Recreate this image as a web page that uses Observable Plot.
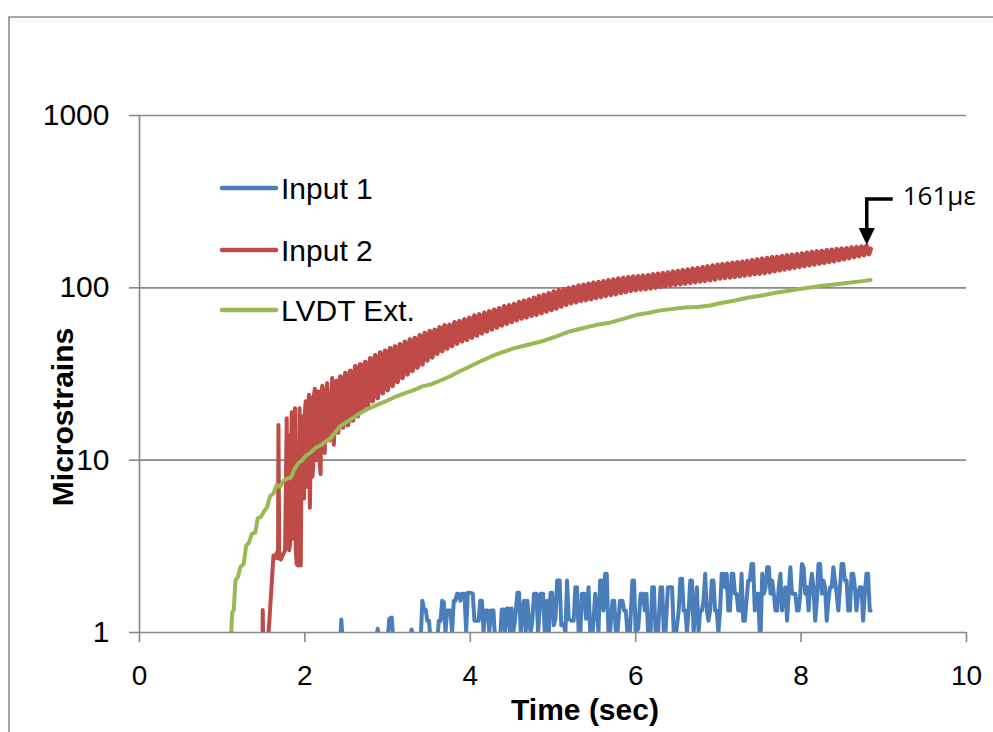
<!DOCTYPE html>
<html>
<head>
<meta charset="utf-8">
<script src="https://cdn.jsdelivr.net/npm/d3@7"></script>
<script src="https://cdn.jsdelivr.net/npm/@observablehq/plot@0.6"></script>
<style>
  html, body { margin: 0; padding: 0; background: #fff; }
  #wrap { position: relative; width: 993px; height: 732px; overflow: hidden; }
  #wrap > svg { position: absolute; left: 0; top: 0; }
  #overlay { pointer-events: none; }
</style>
</head>
<body>
<div id="wrap"></div>
<script>
// ---------- data ----------
const xTicks = [0, 2, 4, 6, 8, 10];
const yTicks = [1, 10, 100, 1000];
const seriesNames = ["Input 1", "Input 2", "LVDT Ext."];
const seriesColors = ["#4A7EBB", "#BE4B48", "#98B954"];
const annotationPoint = [8.80, 176];
const annotationText = "161με";

// LVDT Ext. : [time (s), microstrain]
const lvdt = [
  [1.11,1.0],[1.12,1.3],[1.14,1.35],[1.16,2.0],[1.19,2.1],[1.22,2.4],[1.26,2.5],[1.29,3.2],
  [1.32,3.3],[1.36,3.75],[1.40,3.8],[1.43,4.6],[1.47,4.7],[1.50,5.0],[1.54,5.3],[1.58,6.2],
  [1.62,6.4],[1.66,7.2],[1.70,7.0],[1.74,7.6],[1.78,7.8],[1.83,7.9],[1.87,8.8],[1.92,9.6],
  [1.96,9.9],[2.01,10.6],[2.07,11.1],[2.13,11.8],[2.19,12.2],[2.25,12.8],[2.31,13.4],[2.37,14.6],
  [2.43,15.8],[2.50,16.6],[2.58,17.6],[2.67,18.8],[2.76,19.8],[2.86,20.8],[3.00,22.2],[3.10,23.4],
  [3.20,24.4],[3.31,25.4],[3.42,26.8],[3.53,27.6],[3.64,29.0],[3.75,30.6],[3.86,32.6],[3.97,34.5],
  [4.10,37.0],[4.28,40.5],[4.40,42.5],[4.52,44.5],[4.64,46.0],[4.76,47.5],[4.90,49.5],[5.05,52.5],
  [5.21,56.0],[5.37,58.5],[5.53,61.0],[5.70,63.0],[5.85,66.0],[6.00,69.5],[6.15,71.5],[6.30,74.0],
  [6.45,75.5],[6.60,77.0],[6.75,77.5],[6.90,79.0],[7.05,82.0],[7.20,84.5],[7.35,87.5],[7.51,90.0],
  [7.66,93.0],[7.81,95.5],[7.96,98.0],[8.11,100.5],[8.26,103.0],[8.42,105.0],[8.58,107.0],[8.72,109.0],
  [8.84,111]
];

// Input 2, start-up spikes : [time (s), microstrain]  (null = gap)
const input2Start = [
  [1.488,0.9],[1.49,1.35],[1.495,0.9],[1.52,null],
  [1.555,0.9],[1.62,2.8],[1.64,2.7],[1.66,2.9],[1.675,2.7],[1.68,16],[1.69,2.7],[1.71,2.65],
  [1.73,2.8],[1.76,3.0],[1.78,17.5],[1.79,3.2],[1.80,14],[1.81,3.0],[1.82,3.3],[1.84,19],[1.85,3.5],
  [1.86,3.8],[1.87,18],[1.88,20],[1.89,3.0],[1.90,2.5],[1.92,2.45],[1.935,20],[1.95,2.45],[1.96,12],
  [1.97,18],[1.99,6],[2.00,19],[2.01,22],[2.03,7],[2.04,20],[2.05,24],[2.06,5.3],[2.08,23],[2.09,8],
  [2.10,9],[2.11,24],[2.12,26],[2.14,10],[2.16,25],[2.17,11],[2.19,8.3],[2.20,25],
  [2.21,27],[2.24,11],[2.26,26],[2.27,28],[2.29,14],[2.30,13],[2.33,30],[2.35,12.3],[2.38,29],[2.40,14.5]
];

// Input 2, steady oscillation band : [time (s), microstrain]
const input2Band = [
  [2.40,14.5],[2.43,30.5],[2.46,15.5],[2.49,32],[2.52,16],[2.55,33],[2.58,17],[2.61,35],
  [2.64,18],[2.67,36],[2.70,19.5],[2.73,37],[2.76,20.5],[2.79,39],[2.82,22],[2.85,40.5],
  [2.88,23],[2.91,42],[2.94,24.5],[2.97,43],[3.00,25.5],[3.03,44.5],[3.06,27],[3.09,45.5],
  [3.12,28.5],[3.15,47],[3.18,30],[3.21,48.5],[3.24,31.5],[3.27,50],[3.30,33],[3.33,51],
  [3.36,34.5],[3.39,53],[3.42,36],[3.45,54.5],[3.48,38],[3.51,56],[3.54,39.5],[3.57,57],
  [3.60,41.5],[3.63,59],[3.66,43],[3.69,60.5],[3.72,44.5],[3.75,61],[3.78,46],[3.81,63],
  [3.84,47.5],[3.87,64],[3.90,49],[3.93,65.5],[3.96,50],[3.99,67],[4.02,51.5],[4.05,69],
  [4.08,53],[4.11,70],[4.14,54.5],[4.17,71.5],[4.20,56],[4.23,73],[4.26,57.5],[4.29,74.5],
  [4.32,59],[4.35,76],[4.38,60.5],[4.41,78],[4.44,62],[4.47,79],[4.50,63.5],[4.53,80.5],
  [4.56,65],[4.59,82.5],[4.62,66.5],[4.65,84],[4.68,67.5],[4.71,85.5],[4.74,69],[4.77,87.5],
  [4.80,70],[4.83,89.5],[4.86,71.5],[4.89,91],[4.92,73],[4.95,93],[4.98,74.5],[5.01,95],
  [5.04,76],[5.07,96.5],[5.10,78],[5.13,98],[5.16,80],[5.19,99.5],[5.22,81.5],[5.25,101],
  [5.28,82.5],[5.31,103],[5.34,84],[5.37,104],[5.40,85],[5.43,105.5],[5.46,86],[5.49,107],
  [5.52,87.5],[5.55,108],[5.58,88.5],[5.61,109],[5.64,90],[5.67,110.5],[5.70,91],[5.73,111.5],
  [5.76,92],[5.79,113],[5.82,93.5],[5.85,114],[5.88,94.5],[5.91,115],[5.94,96],[5.97,116],
  [6.00,97],[6.03,116.5],[6.06,98],[6.09,117.5],[6.12,98.5],[6.15,118],[6.18,99.5],[6.21,119.5],
  [6.24,100.5],[6.27,120.5],[6.30,101.5],[6.33,121.5],[6.36,102.5],[6.39,122.5],[6.42,103.5],[6.45,124],
  [6.48,104.5],[6.51,125],[6.54,105],[6.57,126.5],[6.60,106],[6.63,127.5],[6.66,107],[6.69,129],
  [6.72,108],[6.75,130],[6.78,109],[6.81,131.5],[6.84,110],[6.87,133],[6.90,111],[6.93,134.5],
  [6.96,112],[6.99,136],[7.02,113.5],[7.05,137],[7.08,114.5],[7.11,138],[7.14,115],[7.17,139.5],
  [7.20,116],[7.23,140.5],[7.26,117],[7.29,141.5],[7.32,118],[7.35,143],[7.38,119],[7.41,144.5],
  [7.44,120],[7.47,146],[7.50,121],[7.53,147.5],[7.56,122],[7.59,148.5],[7.62,123.5],[7.65,150],
  [7.68,125],[7.71,151],[7.74,126.5],[7.77,152.5],[7.80,128],[7.83,154],[7.86,129.5],[7.89,155],
  [7.92,131],[7.95,156.5],[7.98,132.5],[8.01,158],[8.04,134],[8.07,159.5],[8.10,135.5],[8.13,161],
  [8.16,137],[8.19,162.5],[8.22,138.5],[8.25,163.5],[8.28,140],[8.31,165],[8.34,141.5],[8.37,166],
  [8.40,143],[8.43,167.5],[8.46,145],[8.49,168.5],[8.52,147],[8.55,169.5],[8.58,149],[8.61,171],
  [8.64,151],[8.67,172],[8.70,153],[8.73,173],[8.76,155],[8.79,174.5],[8.82,157],[8.84,168]
];

// Input 1 : [time (s), microstrain]  (values under 1 fall below the axis)
const input1 = [
  [2.40,0.9],[2.43,0.9],[2.44,1.19],[2.45,1.0],[2.47,0.9],[2.86,0.9],[2.88,1.05],[2.90,0.9],
  [3.00,0.9],[3.02,1.2],[3.05,1.22],[3.07,0.9],[3.27,0.9],[3.29,1.04],[3.31,0.9],
  [3.40,0.9],[3.42,1.53],[3.44,1.36],[3.46,1.36],[3.48,1.17],[3.50,1.17],[3.52,0.9],
  [3.60,0.9],[3.62,1.17],[3.64,1.17],[3.66,1.53],[3.68,1.5],[3.70,1.0],[3.72,1.34],[3.76,1.34],
  [3.78,1.0],[3.80,1.53],[3.82,1.53],[3.84,1.68],[3.86,1.68],[3.88,1.53],[3.90,1.68],[3.93,1.68],
  [3.95,1.0],[3.97,1.7],[4.00,1.7],[4.03,1.68],[4.05,1.17],[4.08,1.17],[4.10,1.17],[4.12,1.53],
  [4.14,1.53],[4.16,1.0],[4.18,1.34],[4.21,1.34],[4.23,1.0],[4.25,1.34],[4.28,1.34],[4.30,0.9],
  [4.36,0.9],[4.38,1.36],[4.40,1.36],[4.42,1.0],[4.44,1.38],[4.46,1.38],[4.48,1.0],[4.50,1.38],
  [4.52,1.0],[4.54,1.17],[4.57,1.7],[4.59,1.7],[4.61,1.0],[4.63,1.36],[4.65,1.53],[4.67,1.0],
  [4.69,1.53],[4.71,1.17],[4.73,1.0],[4.75,1.17],[4.77,1.68],[4.80,1.68],[4.82,1.0],[4.85,1.68],
  [4.88,1.68],[4.90,1.0],[4.93,1.53],[4.95,1.0],[4.97,1.7],[4.99,1.7],[5.01,1.1],[5.03,1.2],
  [5.05,2.0],[5.08,2.0],[5.10,1.1],[5.13,1.12],[5.15,1.0],[5.17,2.0],[5.19,1.2],[5.22,1.17],
  [5.25,1.17],[5.27,1.83],[5.29,1.83],[5.31,1.0],[5.33,0.95],[5.35,1.68],[5.38,1.68],[5.40,1.2],
  [5.43,1.83],[5.45,1.0],[5.48,1.0],[5.51,1.68],[5.53,1.34],[5.55,1.0],[5.57,2.0],[5.59,2.0],
  [5.61,1.34],[5.63,2.19],[5.65,2.19],[5.67,1.0],[5.69,1.0],[5.72,1.53],[5.74,1.53],[5.76,1.0],
  [5.78,1.0],[5.81,1.53],[5.84,1.53],[5.86,1.34],[5.88,1.34],[5.90,1.0],[5.93,1.0],[5.96,2.0],
  [5.98,2.0],[6.00,1.0],[6.03,1.05],[6.06,1.68],[6.09,1.68],[6.11,1.34],[6.13,1.68],[6.15,1.0],
  [6.18,1.0],[6.20,1.83],[6.22,1.83],[6.24,1.0],[6.27,1.0],[6.30,1.83],[6.32,1.83],[6.34,1.0],
  [6.36,1.0],[6.39,1.83],[6.42,1.83],[6.44,1.83],[6.46,1.0],[6.49,1.0],[6.52,1.34],[6.54,2.05],
  [6.56,2.05],[6.58,1.34],[6.60,1.34],[6.62,1.0],[6.64,1.34],[6.66,2.0],[6.68,2.0],[6.70,1.0],
  [6.72,1.34],[6.74,1.83],[6.76,1.0],[6.78,1.34],[6.80,1.34],[6.82,1.53],[6.84,2.19],[6.86,1.34],
  [6.88,1.17],[6.90,1.34],[6.92,2.0],[6.94,2.0],[6.96,1.34],[6.98,1.34],[7.00,1.0],[7.02,1.34],
  [7.04,2.19],[7.06,2.19],[7.08,1.83],[7.10,2.19],[7.12,1.34],[7.14,1.34],[7.16,2.19],[7.18,2.19],
  [7.20,1.68],[7.22,1.68],[7.24,1.34],[7.26,1.34],[7.28,2.19],[7.30,1.17],[7.32,1.17],[7.34,1.53],
  [7.36,2.0],[7.38,2.0],[7.40,2.5],[7.42,2.5],[7.44,1.34],[7.46,1.68],[7.48,1.68],[7.50,1.0],
  [7.51,0.95],[7.53,2.19],[7.55,1.68],[7.57,1.83],[7.59,2.39],[7.61,2.39],[7.63,1.68],[7.65,2.0],
  [7.67,1.68],[7.69,1.34],[7.71,1.34],[7.73,1.83],[7.75,2.19],[7.77,1.34],[7.79,1.68],[7.81,1.83],
  [7.83,1.17],[7.85,1.68],[7.87,2.39],[7.89,1.68],[7.91,1.68],[7.93,1.68],[7.95,1.34],[7.97,1.34],
  [7.99,1.68],[8.01,2.5],[8.03,2.39],[8.05,1.68],[8.07,1.83],[8.09,1.34],[8.11,1.83],[8.13,2.19],
  [8.15,1.83],[8.17,1.17],[8.19,1.53],[8.21,2.5],[8.23,2.5],[8.25,1.68],[8.27,2.0],[8.29,1.83],
  [8.31,1.17],[8.33,1.53],[8.35,1.83],[8.37,1.83],[8.39,2.39],[8.41,2.0],[8.43,1.68],[8.45,1.34],
  [8.47,1.83],[8.49,2.5],[8.51,2.5],[8.53,2.0],[8.55,2.0],[8.57,1.34],[8.59,1.34],[8.61,2.19],
  [8.63,2.19],[8.65,1.83],[8.67,1.34],[8.69,1.68],[8.71,1.83],[8.73,1.83],[8.75,1.17],[8.77,1.68],
  [8.79,2.19],[8.81,2.19],[8.83,1.34],[8.84,1.34]
];

// ---------- chart ----------
const gray = "#878787";
const font = "'Liberation Sans', Arial, sans-serif";
const X = d => d[0], Y = d => d[1];

const plot = Plot.plot({
  width: 993,
  height: 732,
  marginLeft: 139,
  marginRight: 27,
  marginTop: 115,
  marginBottom: 100,
  x: {domain: [0, 10]},
  y: {type: "log", domain: [1, 1000]},
  style: {fontFamily: font, fontSize: "30px", color: "#000", background: "transparent", overflow: "visible"},
  marks: [
    Plot.gridY(yTicks.slice(1), {stroke: gray, strokeOpacity: 1, strokeWidth: 1.6}),
    Plot.line(input1, {x: X, y: Y, stroke: seriesColors[0], strokeWidth: 4, clip: true}),
    Plot.line(input2Start, {x: X, y: Y, stroke: seriesColors[1], strokeWidth: 4, clip: true}),
    Plot.line(input2Band, {x: X, y: Y, stroke: seriesColors[1], strokeWidth: 4.8, clip: true}),
    Plot.line(lvdt, {x: X, y: Y, stroke: seriesColors[2], strokeWidth: 4, clip: true}),
    Plot.ruleY([1], {stroke: gray, strokeWidth: 1.6}),
    Plot.ruleX([0], {stroke: gray, strokeWidth: 1.6}),
    Plot.axisY({ticks: yTicks, tickFormat: d => String(d), tickSize: 10, tickPadding: 20,
                stroke: gray, strokeWidth: 1.6, fill: "#000", label: null}),
    Plot.axisX({ticks: xTicks, tickFormat: d => String(d), tickSize: 10, tickPadding: 23, fontSize: 28,
                stroke: gray, strokeWidth: 1.6, fill: "#000", label: null})
  ]
});

const wrap = document.getElementById("wrap");
wrap.appendChild(plot);

// ---------- overlay: frame, titles, legend, annotation ----------
const sx = plot.scale("x"), sy = plot.scale("y");
const ax = sx.apply(annotationPoint[0]);
const ay = sy.apply(annotationPoint[1]);

const ns = "http://www.w3.org/2000/svg";
const ov = document.createElementNS(ns, "svg");
ov.setAttribute("id", "overlay");
ov.setAttribute("width", 993);
ov.setAttribute("height", 732);
ov.style.position = "absolute";
ov.style.left = "0px";
ov.style.top = "0px";

const legendRows = [188, 250, 310];
let legend = "";
seriesNames.forEach((name, i) => {
  legend += `<line x1="222" x2="276" y1="${legendRows[i]}" y2="${legendRows[i]}" stroke="${seriesColors[i]}" stroke-width="4.5" stroke-linecap="round"/>`;
  legend += `<text x="281" y="${legendRows[i] + 11}" font-family="${font}" font-size="30" fill="#000">${name}</text>`;
});

ov.innerHTML = `
  <path d="M9,732 V17 H993" fill="none" stroke="#8c8c8c" stroke-width="1.6"/>
  ${legend}
  <text x="585" y="720" text-anchor="middle" font-family="${font}" font-size="30" font-weight="bold" fill="#000">Time (sec)</text>
  <text transform="translate(73,417) rotate(-90)" text-anchor="middle" font-family="${font}" font-size="30" font-weight="bold" fill="#000">Microstrains</text>
  <path d="M${ax},${ay - 14} V${ay - 46} H${ax + 26}" fill="none" stroke="#000" stroke-width="3.5"/>
  <path d="M${ax - 8},${ay - 17} L${ax + 8},${ay - 17} L${ax},${ay} Z" fill="#000"/>
  <text x="${ax + 36}" y="${ay - 40}" font-family="'Open Sans', 'Noto Sans', sans-serif" font-size="26" fill="#000">${annotationText}</text>
`;
wrap.appendChild(ov);
</script>
</body>
</html>
